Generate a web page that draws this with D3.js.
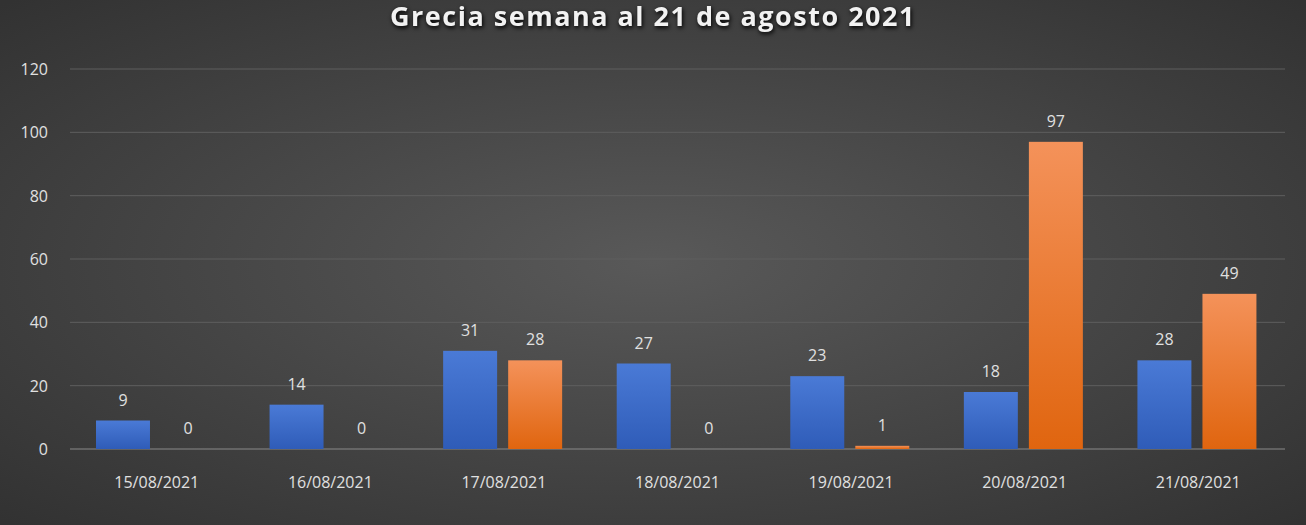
<!DOCTYPE html>
<html><head><meta charset="utf-8">
<script src="https://cdn.jsdelivr.net/npm/d3@7"></script>
<style>body{margin:0;background:#404040;font-family:"Open Sans",sans-serif}</style>
</head><body><svg id="c" width="1306" height="525"></svg>
<script>
const dates = ["15/08/2021","16/08/2021","17/08/2021","18/08/2021","19/08/2021","20/08/2021","21/08/2021"];
const blueVals = [9,14,31,27,23,18,28];
const orangeVals = [0,0,28,0,1,97,49];
const yTicks = [0,20,40,60,80,100,120];

const svg = d3.select("#c");
const defs = svg.append("defs");
const bg = defs.append("radialGradient").attr("id","bg").attr("cx","50%").attr("cy","50%").attr("r","70%");
bg.append("stop").attr("offset","0%").attr("stop-color","#595959");
bg.append("stop").attr("offset","100%").attr("stop-color","#323232");
const gb = defs.append("linearGradient").attr("id","gb").attr("x1",0).attr("y1",0).attr("x2",0).attr("y2",1);
gb.append("stop").attr("offset","0%").attr("stop-color","#4a7ad6");
gb.append("stop").attr("offset","100%").attr("stop-color","#2f5cb8");
const go = defs.append("linearGradient").attr("id","go").attr("x1",0).attr("y1",0).attr("x2",0).attr("y2",1);
go.append("stop").attr("offset","0%").attr("stop-color","#f4925a");
go.append("stop").attr("offset","100%").attr("stop-color","#e0650f");

svg.append("rect").attr("width",1306).attr("height",525).attr("fill","url(#bg)");

svg.append("text").attr("x",653).attr("y",26).attr("text-anchor","middle")
  .attr("fill","#f2f2f2").attr("font-size",27).attr("font-weight","bold").attr("letter-spacing",1.5)
  .style("filter","drop-shadow(1px 2px 2px #000)")
  .text("Grecia semana al 21 de agosto 2021");

const x = d3.scaleBand().domain(dates).range([70,1285]);
const y = d3.scaleLinear().domain([0,120]).range([449,69]);
const sub = d3.scaleBand().domain(["b","o"]).range([26,145]).paddingInner(0.17);

svg.append("g").selectAll("line").data(yTicks).join("line")
  .attr("x1",70).attr("x2",1285).attr("y1",d=>y(d)).attr("y2",d=>y(d))
  .attr("stroke",d=>d===0?"#8a8a8a":"#5e5e5e").attr("stroke-width",1);
svg.append("g").selectAll("text").data(yTicks).join("text")
  .attr("x",48).attr("y",d=>y(d)+6).attr("text-anchor","end")
  .attr("fill","#e0e0e0").attr("font-size",16).text(d=>d);
svg.append("g").selectAll("text").data(dates).join("text")
  .attr("x",d=>x(d)+x.bandwidth()/2).attr("y",488).attr("text-anchor","middle")
  .attr("fill","#e0e0e0").attr("font-size",16).text(d=>d);

const series = [{k:"b",v:blueVals,f:"url(#gb)"},{k:"o",v:orangeVals,f:"url(#go)"}];
series.forEach(s=>{
  const g = svg.append("g");
  g.selectAll("rect").data(dates).join("rect")
    .attr("x",(d)=>x(d)+sub(s.k)).attr("width",sub.bandwidth())
    .attr("y",(d,i)=>y(s.v[i])).attr("height",(d,i)=>y(0)-y(s.v[i]))
    .attr("fill",s.f);
  g.selectAll("text").data(dates).join("text")
    .attr("x",d=>x(d)+sub(s.k)+sub.bandwidth()/2)
    .attr("y",(d,i)=>y(s.v[i])-15).attr("text-anchor","middle")
    .attr("fill","#e0e0e0").attr("font-size",16).text((d,i)=>s.v[i]);
});
</script></body></html>
